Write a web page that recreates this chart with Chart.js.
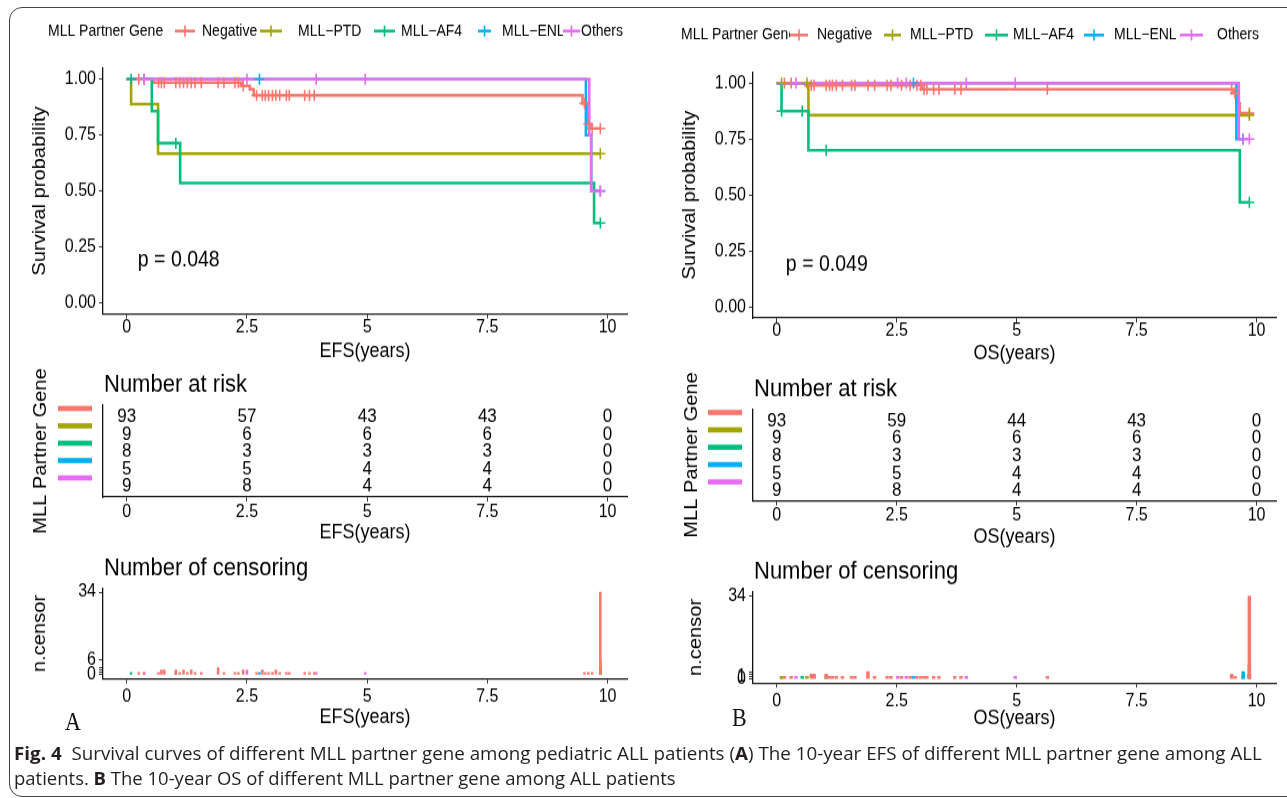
<!DOCTYPE html>
<html>
<head>
<meta charset="utf-8">
<title>Survival curves by MLL partner gene</title>
<script src="https://cdn.jsdelivr.net/npm/chart.js@4.4.1/dist/chart.umd.min.js"></script>
<style>
  html, body { margin: 0; padding: 0; background: #fff; }
  body { width: 1287px; height: 798px; overflow: hidden; position: relative; }
  #frame { position: absolute; left: 9px; top: 7px; width: 1300px; height: 790px; border: 1px solid #444; border-radius: 13px; box-sizing: border-box; }
  #stage { position: absolute; left: 0; top: 0; width: 1287px; height: 713px; transform-origin: 0 0; }
  #stage canvas { position: absolute; left: 0; top: 0; }
  .cap { position: absolute; left: 14px; white-space: nowrap; font-family: 'Open Sans', 'Liberation Sans', Arial, sans-serif; font-size: 16px; line-height: 20px; color: #231f20; transform-origin: 0 50%; }
  .cap b { font-weight: 700; }
  .panel-tag { position: absolute; font-family: 'Liberation Serif', 'Times New Roman', serif; font-size: 22px; line-height: 22px; color: #111; }
</style>
</head>
<body>
<div id="frame"></div>
<div id="stage">
  <canvas id="efsSurv" width="1287" height="713"></canvas>
  <canvas id="efsRisk" width="1287" height="713"></canvas>
  <canvas id="efsCens" width="1287" height="713"></canvas>
  <canvas id="osSurv" width="1287" height="713"></canvas>
  <canvas id="osRisk" width="1287" height="713"></canvas>
  <canvas id="osCens" width="1287" height="713"></canvas>
  <div class="panel-tag" id="tagA">A</div>
  <div class="panel-tag" id="tagB">B</div>
  <div class="cap" id="cap1" data-w="1248"><b>Fig. 4</b>&nbsp; Survival curves of different MLL partner gene among pediatric ALL patients (<b>A</b>) The 10-year EFS of different MLL partner gene among ALL</div>
  <div class="cap" id="cap2" data-w="662">patients. <b>B</b> The 10-year OS of different MLL partner gene among ALL patients</div>
</div>
<script>
// ---------- data ----------
const groups = ['Negative', 'MLL\u2212PTD', 'MLL\u2212AF4', 'MLL\u2212ENL', 'Others'];
const groupColors = ['#F8766D', '#A3A500', '#00BF7D', '#00B0F6', '#E76BF3'];
const timeTicks = [0, 2.5, 5, 7.5, 10];
const survTicks = [0, 0.25, 0.5, 0.75, 1];

// Event-free survival: Kaplan-Meier steps as [years, survival after the step]
const efsNegative = [[0, 1], [0.55, 0.985], [2.38, 0.97], [2.56, 0.955], [2.64, 0.928], [9.48, 0.892], [9.6, 0.8], [9.65, 0.78]];
const efsPTD = [[0, 1], [0.09, 0.889], [0.65, 0.667]];
const efsAF4 = [[0, 1], [0.52, 0.857], [0.65, 0.714], [1.11, 0.536], [9.72, 0.357]];
const efsENL = [[0, 1], [9.55, 0.75], [9.66, 0.5]];
const efsOthers = [[0, 1], [9.62, 0.75], [9.66, 0.5]];

// Event-free survival: censoring as [years, patients censored]
const efsCensNegative = [[0.25, 1], [0.36, 1], [0.66, 1], [0.72, 2], [0.78, 2], [1.02, 2], [1.1, 1], [1.18, 2], [1.26, 1], [1.34, 2], [1.42, 1], [1.55, 1], [1.9, 3], [2.02, 1], [2.25, 1], [2.32, 1], [2.42, 2], [2.7, 1], [2.82, 2], [2.88, 1], [2.95, 1], [3.03, 1], [3.1, 2], [3.18, 1], [3.32, 1], [3.38, 1], [3.7, 1], [3.8, 1], [3.9, 1], [9.52, 1], [9.6, 1], [9.68, 1], [9.85, 34]];
const efsCensPTD = [[9.85, 6]];
const efsCensAF4 = [[0.09, 1], [1.02, 1], [9.85, 2]];
const efsCensENL = [[2.76, 1], [9.85, 2]];
const efsCensOthers = [[0.36, 1], [2.5, 2], [3.94, 1], [4.96, 1], [9.85, 2]];

// Overall survival: Kaplan-Meier steps
const osNegative = [[0, 1], [0.6, 0.99], [3.02, 0.973], [9.52, 0.955], [9.58, 0.91], [9.65, 0.866]];
const osPTD = [[0, 1], [0.66, 0.857]];
const osAF4 = [[0, 1], [0.1, 0.875], [0.66, 0.7], [9.65, 0.467]];
const osENL = [[0, 1], [9.58, 0.75]];
const osOthers = [[0, 1], [9.63, 0.75]];

// Overall survival: censoring
const osCensNegative = [[0.16, 1], [0.3, 1], [0.72, 2], [0.78, 2], [1.03, 2], [1.1, 1], [1.16, 1], [1.24, 1], [1.37, 1], [1.56, 1], [1.63, 1], [1.9, 3], [2.04, 1], [2.3, 1], [2.38, 1], [2.6, 1], [2.78, 1], [2.92, 1], [3.0, 1], [3.07, 1], [3.13, 1], [3.27, 1], [3.38, 1], [3.71, 1], [3.84, 1], [5.64, 1], [9.48, 2], [9.55, 1], [9.85, 34]];
const osCensPTD = [[0.1, 1], [0.63, 1], [9.85, 6]];
const osCensAF4 = [[0.1, 1], [0.53, 1], [1.03, 1], [9.85, 2]];
const osCensENL = [[2.85, 1], [9.72, 3]];
const osCensOthers = [[0.4, 1], [2.52, 1], [2.7, 1], [3.95, 1], [4.97, 1], [9.72, 1], [9.85, 2]];

// Number at risk at 0, 2.5, 5, 7.5 and 10 years (rows follow `groups`)
const efsAtRisk = [[93, 57, 43, 43, 0], [9, 6, 6, 6, 0], [8, 3, 3, 3, 0], [5, 5, 4, 4, 0], [9, 8, 4, 4, 0]];
const osAtRisk = [[93, 59, 44, 43, 0], [9, 6, 6, 6, 0], [8, 3, 3, 3, 0], [5, 5, 4, 4, 0], [9, 8, 4, 4, 0]];

const efsPValue = 'p = 0.048';
const osPValue = 'p = 0.049';
const efsCensorTicks = [0, 1, 2, 3, 6, 34];
const efsCensorLabels = [0, 6, 34];
const osCensorTicks = [0, 1, 2, 3, 34];
const osCensorLabels = [0, 1, 34];

// ---------- layout ----------
// The figure is drawn on a stage that is stretched vertically; y positions below are page pixels.
const STRETCH = 798 / 713;
const u = v => v / STRETCH;
const PAGE_W = 1287, STAGE_H = 713, Y_AXIS_W = 90, X_AXIS_H = 52;
const FONT = "'Liberation Sans', Arial, Helvetica, sans-serif";
document.getElementById('stage').style.transform = 'scaleY(' + STRETCH + ')';

const panelA = {
  xMin: -0.495, xMax: 10.405, xTitle: 'EFS(years)', pval: [0.23, 0.19],
  surv: { l: 103, r: 627, t: 68, b: 314, yTitleX: 40, xTickY: 327, xTitleY: 351 },
  risk: { l: 103, r: 627, t: 405, b: 497, yTitleX: 41, xTickY: 512, xTitleY: 533, titleY: 385, barX: [58, 92] },
  cens: { l: 103, r: 627, t: 588, b: 679, yTitleX: 40, xTickY: 697, xTitleY: 717, titleY: 568 },
  legend: { y: 31, titleX: 48, keys: [[175, 195], [260, 282], [374, 395], [478, 491], [563, 580]], labels: [202, 298, 401, 502, 581] }
};
const panelB = {
  xMin: -0.495, xMax: 10.405, xTitle: 'OS(years)', pval: [0.19, 0.19],
  surv: { l: 753, r: 1276, t: 72, b: 318, yTitleX: 690, xTickY: 331, xTitleY: 354 },
  risk: { l: 753, r: 1276, t: 409, b: 501, yTitleX: 692, xTickY: 515, xTitleY: 537, titleY: 389, barX: [708, 742] },
  cens: { l: 753, r: 1276, t: 592, b: 683, yTitleX: 696, xTickY: 701, xTitleY: 719, titleY: 572 },
  legend: { y: 35, titleX: 681, keys: [[790, 808], [884, 901], [985, 1008], [1084, 1104], [1180, 1203]], labels: [817, 910, 1013, 1114, 1217] }
};

Chart.defaults.font.family = FONT;
Chart.defaults.color = '#000';

function frameOptions(box, panel, yTitle, yScale) {
  const titleFont = { size: 18, lineHeight: 1.2 };
  return {
    responsive: false, animation: false, devicePixelRatio: 1, events: [],
    layout: { padding: { left: box.l - Y_AXIS_W, right: PAGE_W - box.r, top: u(box.t), bottom: STAGE_H - u(box.b) - X_AXIS_H } },
    plugins: { legend: { display: false }, tooltip: { enabled: false } },
    scales: {
      x: {
        type: 'linear', position: 'bottom', min: panel.xMin, max: panel.xMax, offset: false,
        afterFit: s => { s.height = X_AXIS_H; },
        afterBuildTicks: s => { s.ticks = timeTicks.map(v => ({ value: v })); },
        ticks: { autoSkip: false, maxRotation: 0, minRotation: 0, color: '#000', font: { size: 16, lineHeight: 1 },
                 padding: u(box.xTickY) - u(box.b) - 12, callback: v => String(v) },
        grid: { drawOnChartArea: false, drawTicks: true, tickLength: 4, tickWidth: 1, color: '#333', offset: false },
        border: { display: true, color: '#111', width: 1.3 },
        title: { display: true, text: panel.xTitle, color: '#000', font: titleFont,
                 padding: { top: 0, bottom: u(box.b) + X_AXIS_H - u(box.xTitleY) - 10.8 } }
      },
      y: Object.assign({
        type: 'linear', position: 'left',
        afterFit: s => { s.width = Y_AXIS_W; },
        border: { display: true, color: '#111', width: 1.3 },
        title: { display: true, text: yTitle, color: '#000', font: titleFont,
                 padding: { top: box.yTitleX - (box.l - Y_AXIS_W) - 10.8, bottom: 0 } }
      }, yScale)
    }
  };
}

function survAt(steps, t) {
  let s = steps[0][1];
  for (const [x, y] of steps) { if (x <= t) s = y; }
  return s;
}

function drawLegend(ctx, lg) {
  const y = u(lg.y);
  ctx.save();
  ctx.font = '14px ' + FONT;
  ctx.textBaseline = 'middle';
  ctx.textAlign = 'left';
  ctx.fillStyle = '#000';
  ctx.fillText('MLL Partner Gene', lg.titleX, y);
  groups.forEach((name, g) => {
    const [k0, k1] = lg.keys[g];
    ctx.fillStyle = '#fff';
    ctx.fillRect(k0, y - u(8), k1 - k0, u(16));
    ctx.strokeStyle = groupColors[g];
    ctx.lineWidth = 2.6;
    ctx.beginPath(); ctx.moveTo(k0, y); ctx.lineTo(k1, y); ctx.stroke();
    const cx = (k0 + k1) / 2;
    ctx.lineWidth = 1.6;
    ctx.beginPath();
    ctx.moveTo(cx - 5, y); ctx.lineTo(cx + 5, y);
    ctx.moveTo(cx, y - 5); ctx.lineTo(cx, y + 5);
    ctx.stroke();
    ctx.fillStyle = '#000';
    ctx.fillText(name, lg.labels[g], y);
  });
  ctx.restore();
}

function drawSurvival(canvasId, panel, steps, censors, pText) {
  const datasets = [];
  steps.forEach((st, g) => {
    const last = st[st.length - 1];
    const end = Math.max(last[0], ...censors[g].map(c => c[0]));
    datasets.push({
      type: 'line', label: groups[g],
      data: st.map(([x, y]) => ({ x, y })).concat([{ x: end, y: last[1] }]),
      borderColor: groupColors[g], borderWidth: 2.6, stepped: true, pointRadius: 0, fill: false, order: 20 - g
    });
  });
  censors.forEach((cs, g) => {
    datasets.push({
      type: 'scatter', label: groups[g] + ' censored',
      data: cs.map(([t]) => ({ x: t, y: survAt(steps[g], t) })),
      pointStyle: 'cross', pointRadius: 5, borderColor: groupColors[g], pointBorderColor: groupColors[g],
      backgroundColor: groupColors[g], borderWidth: 1.6, pointBorderWidth: 1.6, order: 10 - g
    });
  });
  const yScale = {
    min: -0.05, max: 1.05,
    afterBuildTicks: s => { s.ticks = survTicks.map(v => ({ value: v })); },
    ticks: { autoSkip: false, color: '#000', font: { size: 16 }, padding: 3, callback: v => v.toFixed(2) },
    grid: { drawOnChartArea: false, drawTicks: true, tickLength: 4, tickWidth: 1, color: '#333' }
  };
  new Chart(document.getElementById(canvasId), {
    type: 'line',
    data: { datasets },
    options: frameOptions(panel.surv, panel, 'Survival probability', yScale),
    plugins: [{
      id: 'survivalExtras',
      afterDraw(chart) {
        const ctx = chart.ctx;
        drawLegend(ctx, panel.legend);
        ctx.save();
        ctx.font = '19.5px ' + FONT;
        ctx.fillStyle = '#000';
        ctx.textAlign = 'left';
        ctx.textBaseline = 'middle';
        ctx.fillText(pText, chart.scales.x.getPixelForValue(panel.pval[0]), chart.scales.y.getPixelForValue(panel.pval[1]));
        ctx.restore();
      }
    }]
  });
}

function drawRisk(canvasId, panel, atRisk) {
  const box = panel.risk;
  const datasets = atRisk.map((row, g) => ({
    type: 'scatter', label: groups[g],
    data: row.map((n, j) => ({ x: timeTicks[j], y: g + 1 })),
    pointRadius: 0
  }));
  const yScale = {
    min: 0.3, max: 5.6, reverse: true,
    ticks: { display: false },
    grid: { drawOnChartArea: false, drawTicks: false }
  };
  new Chart(document.getElementById(canvasId), {
    type: 'scatter',
    data: { datasets },
    options: frameOptions(box, panel, 'MLL Partner Gene', yScale),
    plugins: [{
      id: 'riskTable',
      afterDatasetsDraw(chart) {
        const ctx = chart.ctx, ys = chart.scales.y;
        ctx.save();
        ctx.font = '17px ' + FONT;
        ctx.fillStyle = '#000';
        ctx.textAlign = 'center';
        ctx.textBaseline = 'middle';
        atRisk.forEach((row, g) => {
          chart.getDatasetMeta(g).data.forEach((pt, j) => ctx.fillText(String(row[j]), pt.x, pt.y));
        });
        atRisk.forEach((row, g) => {
          ctx.fillStyle = groupColors[g];
          const yy = ys.getPixelForValue(g + 0.5);
          ctx.fillRect(box.barX[0], yy - u(2.6), box.barX[1] - box.barX[0], u(5.2));
        });
        ctx.fillStyle = '#000';
        ctx.textAlign = 'left';
        ctx.font = '22px ' + FONT;
        ctx.fillText('Number at risk', box.l + 1, u(box.titleY));
        ctx.restore();
      }
    }]
  });
}

function drawCensor(canvasId, panel, censors, tickVals, labelVals) {
  const box = panel.cens;
  const datasets = censors.map((cs, g) => ({
    type: 'bar', label: groups[g],
    data: cs.map(([t, n]) => ({ x: t, y: n })),
    backgroundColor: groupColors[g], borderWidth: 0, grouped: false,
    categoryPercentage: 1, barPercentage: 1, maxBarThickness: 2.8
  }));
  const yScale = {
    min: -1.7, max: 35.7,
    afterBuildTicks: s => { s.ticks = tickVals.map(v => ({ value: v })); },
    ticks: { autoSkip: false, color: '#000', font: { size: 16 }, padding: 3, callback: v => labelVals.includes(v) ? String(v) : '' },
    grid: { drawOnChartArea: false, drawTicks: true, tickLength: 4, tickWidth: 1, color: '#333' }
  };
  new Chart(document.getElementById(canvasId), {
    type: 'bar',
    data: { datasets },
    options: frameOptions(box, panel, 'n.censor', yScale),
    plugins: [{
      id: 'censorTitle',
      afterDraw(chart) {
        const ctx = chart.ctx;
        ctx.save();
        ctx.font = '22px ' + FONT;
        ctx.fillStyle = '#000';
        ctx.textAlign = 'left';
        ctx.textBaseline = 'middle';
        ctx.fillText('Number of censoring', box.l + 1, u(box.titleY));
        ctx.restore();
      }
    }]
  });
}

drawSurvival('efsSurv', panelA, [efsNegative, efsPTD, efsAF4, efsENL, efsOthers],
  [efsCensNegative, efsCensPTD, efsCensAF4, efsCensENL, efsCensOthers], efsPValue);
drawRisk('efsRisk', panelA, efsAtRisk);
drawCensor('efsCens', panelA, [efsCensNegative, efsCensPTD, efsCensAF4, efsCensENL, efsCensOthers], efsCensorTicks, efsCensorLabels);

drawSurvival('osSurv', panelB, [osNegative, osPTD, osAF4, osENL, osOthers],
  [osCensNegative, osCensPTD, osCensAF4, osCensENL, osCensOthers], osPValue);
drawRisk('osRisk', panelB, osAtRisk);
drawCensor('osCens', panelB, [osCensNegative, osCensPTD, osCensAF4, osCensENL, osCensOthers], osCensorTicks, osCensorLabels);

// panel tags and caption
const tagA = document.getElementById('tagA');
tagA.style.left = '65px'; tagA.style.top = (u(722) - 11) + 'px';
const tagB = document.getElementById('tagB');
tagB.style.left = '732px'; tagB.style.top = (u(718) - 11) + 'px';
const cap1 = document.getElementById('cap1');
cap1.style.top = (u(753) - 10) + 'px';
const cap2 = document.getElementById('cap2');
cap2.style.top = (u(778) - 10) + 'px';
[cap1, cap2].forEach(el => {
  const w = el.offsetWidth;
  el.style.transform = 'scaleX(' + (Number(el.dataset.w) / w) + ')';
});
</script>
</body>
</html>
